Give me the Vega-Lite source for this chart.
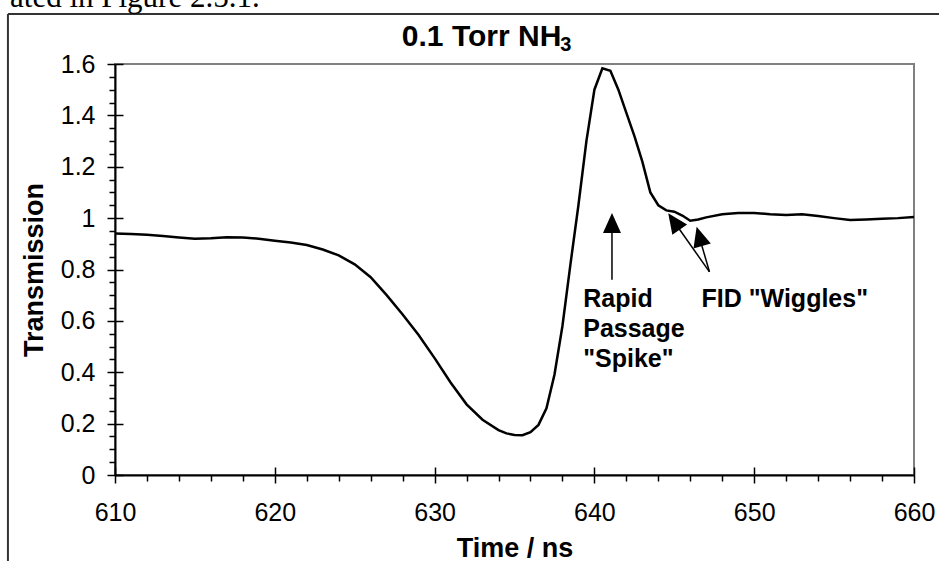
{
  "$schema": "https://vega.github.io/schema/vega-lite/v6.json",
  "width": 799,
  "height": 411,
  "autosize": {"type": "none"},
  "padding": {"left": 115, "top": 64, "right": 25, "bottom": 86},
  "background": "white",
  "config": {
    "font": "Liberation Sans",
    "view": {"stroke": "#808080", "strokeWidth": 2},
    "axis": {"grid": false, "labelColor": "black", "titleColor": "black", "tickColor": "black", "domainColor": "black"}
  },
  "datasets": {
    "curve": [
      {"t": 610, "v": 0.94}, {"t": 611, "v": 0.938}, {"t": 612, "v": 0.935}, {"t": 613, "v": 0.93},
      {"t": 614, "v": 0.925}, {"t": 615, "v": 0.92}, {"t": 616, "v": 0.922}, {"t": 617, "v": 0.926},
      {"t": 618, "v": 0.925}, {"t": 619, "v": 0.92}, {"t": 620, "v": 0.912}, {"t": 621, "v": 0.905},
      {"t": 622, "v": 0.895}, {"t": 623, "v": 0.878}, {"t": 624, "v": 0.855}, {"t": 625, "v": 0.82},
      {"t": 626, "v": 0.77}, {"t": 627, "v": 0.7}, {"t": 628, "v": 0.625}, {"t": 629, "v": 0.545},
      {"t": 630, "v": 0.455}, {"t": 631, "v": 0.36}, {"t": 632, "v": 0.275}, {"t": 633, "v": 0.215},
      {"t": 634, "v": 0.175}, {"t": 634.5, "v": 0.162}, {"t": 635, "v": 0.156}, {"t": 635.5, "v": 0.155},
      {"t": 636, "v": 0.167}, {"t": 636.5, "v": 0.195}, {"t": 637, "v": 0.26}, {"t": 637.5, "v": 0.39},
      {"t": 638, "v": 0.58}, {"t": 638.5, "v": 0.82}, {"t": 639, "v": 1.05}, {"t": 639.5, "v": 1.3},
      {"t": 640, "v": 1.5}, {"t": 640.5, "v": 1.583}, {"t": 641, "v": 1.574}, {"t": 641.5, "v": 1.5},
      {"t": 642, "v": 1.41}, {"t": 642.5, "v": 1.32}, {"t": 643, "v": 1.22}, {"t": 643.5, "v": 1.1},
      {"t": 644, "v": 1.05}, {"t": 644.5, "v": 1.03}, {"t": 645, "v": 1.025}, {"t": 645.5, "v": 1.01},
      {"t": 646, "v": 0.99}, {"t": 646.5, "v": 0.995}, {"t": 647, "v": 1.003}, {"t": 648, "v": 1.015},
      {"t": 649, "v": 1.02}, {"t": 650, "v": 1.02}, {"t": 651, "v": 1.015}, {"t": 652, "v": 1.012},
      {"t": 653, "v": 1.015}, {"t": 654, "v": 1.008}, {"t": 655, "v": 1.0}, {"t": 656, "v": 0.993},
      {"t": 657, "v": 0.995}, {"t": 658, "v": 0.998}, {"t": 659, "v": 1.0}, {"t": 660, "v": 1.004}
    ],
    "notes": [
      {"x": 639.3, "y": 0.654, "label": "Rapid\nPassage\n\"Spike\""},
      {"x": 646.7, "y": 0.654, "label": "FID \"Wiggles\""}
    ],
    "arrows": [
      {"x": 641.1, "y": 0.76, "x2": 641.1, "y2": 0.985},
      {"x": 647.2, "y": 0.791, "x2": 645.0, "y2": 0.985},
      {"x": 647.2, "y": 0.791, "x2": 646.55, "y2": 0.93}
    ],
    "heads": [
      {"x": 641.1, "y": 0.981, "angle": 0},
      {"x": 644.98, "y": 0.987, "angle": 325},
      {"x": 646.57, "y": 0.929, "angle": 344}
    ],
    "frame": [
      {"x": 603.3, "y": 1.7945, "x2": 663, "y2": 1.7945},
      {"x": 603.3, "y": 1.7945, "x2": 603.3, "y2": -0.6}
    ],
    "caption": [
      {"x": 603.43, "y": 1.8217, "label": "ated in Figure 2.5.1."}
    ],
    "heading": [
      {"x": 627.95, "y": 1.67, "label": "0.1 Torr NH", "size": 30},
      {"x": 637.86, "y": 1.6505, "label": "3", "size": 20}
    ]
  },
  "resolve": {"axis": {"x": "independent", "y": "independent"}},
  "layer": [
    {
      "data": {"name": "frame"},
      "mark": {"type": "rule", "color": "#333333", "strokeWidth": 2, "clip": false},
      "encoding": {
        "x": {"field": "x", "type": "quantitative", "scale": {"domain": [610, 660], "nice": false, "zero": false}, "axis": null},
        "y": {"field": "y", "type": "quantitative", "scale": {"domain": [0, 1.6], "nice": false, "zero": false}, "axis": null},
        "x2": {"field": "x2"},
        "y2": {"field": "y2"}
      }
    },
    {
      "data": {"name": "caption"},
      "mark": {"type": "text", "font": "Liberation Serif", "fontSize": 31, "align": "left", "baseline": "alphabetic", "color": "black", "clip": false},
      "encoding": {
        "x": {"field": "x", "type": "quantitative", "scale": {"domain": [610, 660], "nice": false, "zero": false}, "axis": null},
        "y": {"field": "y", "type": "quantitative", "scale": {"domain": [0, 1.6], "nice": false, "zero": false}, "axis": null},
        "text": {"field": "label"}
      }
    },
    {
      "data": {"name": "heading"},
      "mark": {"type": "text", "font": "Liberation Sans", "fontWeight": "bold", "align": "left", "baseline": "alphabetic", "color": "black", "clip": false},
      "encoding": {
        "x": {"field": "x", "type": "quantitative", "scale": {"domain": [610, 660], "nice": false, "zero": false}, "axis": null},
        "y": {"field": "y", "type": "quantitative", "scale": {"domain": [0, 1.6], "nice": false, "zero": false}, "axis": null},
        "text": {"field": "label"},
        "size": {"field": "size", "type": "quantitative", "scale": null, "legend": null}
      }
    },
    {
      "data": {"name": "curve"},
      "mark": {"type": "line", "color": "black", "strokeWidth": 2.5},
      "encoding": {
        "x": {"field": "t", "type": "quantitative", "scale": {"domain": [610, 660], "nice": false, "zero": false},
          "axis": {"orient": "bottom", "values": [610, 620, 630, 640, 650, 660], "tickSize": 8, "tickWidth": 1.5, "domainWidth": 2,
            "labelFontSize": 25, "labelPadding": 17, "labelFlush": false, "labelOverlap": false,
            "title": "Time / ns", "titleFontSize": 27, "titleFontWeight": "bold", "titlePadding": 10}},
        "y": {"field": "v", "type": "quantitative", "scale": {"domain": [0, 1.6], "nice": false, "zero": false},
          "axis": {"orient": "left", "values": [0, 0.2, 0.4, 0.6, 0.8, 1, 1.2, 1.4, 1.6], "format": ".1~f", "tickSize": 8, "tickWidth": 1.5, "domainWidth": 2,
            "labelFontSize": 25, "labelPadding": 12, "labelFlush": false, "labelOverlap": false,
            "title": "Transmission", "titleFontSize": 27, "titleFontWeight": "bold", "titlePadding": 12}}
      }
    },
    {
      "data": {"name": "notes"},
      "mark": {"type": "text", "fontSize": 25, "fontWeight": "bold", "align": "left", "baseline": "alphabetic", "lineBreak": "\n", "lineHeight": 30, "color": "black"},
      "encoding": {
        "x": {"field": "x", "type": "quantitative", "scale": {"domain": [610, 660], "nice": false, "zero": false},
          "axis": {"orient": "bottom", "values": [612, 614, 616, 618, 622, 624, 626, 628, 632, 634, 636, 638, 642, 644, 646, 648, 652, 654, 656, 658],
            "tickSize": 6, "tickWidth": 1.5, "labels": false, "domain": false, "title": null}},
        "y": {"field": "y", "type": "quantitative", "scale": {"domain": [0, 1.6], "nice": false, "zero": false},
          "axis": {"orient": "left", "values": [0.05, 0.1, 0.15, 0.25, 0.3, 0.35, 0.45, 0.5, 0.55, 0.65, 0.7, 0.75, 0.85, 0.9, 0.95, 1.05, 1.1, 1.15, 1.25, 1.3, 1.35, 1.45, 1.5, 1.55],
            "tickSize": 6, "tickWidth": 1.5, "labels": false, "domain": false, "title": null}},
        "text": {"field": "label"}
      }
    },
    {
      "data": {"name": "arrows"},
      "mark": {"type": "rule", "color": "black", "strokeWidth": 1.5},
      "encoding": {
        "x": {"field": "x", "type": "quantitative", "scale": {"domain": [610, 660], "nice": false, "zero": false}, "axis": null},
        "y": {"field": "y", "type": "quantitative", "scale": {"domain": [0, 1.6], "nice": false, "zero": false}, "axis": null},
        "x2": {"field": "x2"},
        "y2": {"field": "y2"}
      }
    },
    {
      "data": {"name": "heads"},
      "mark": {"type": "point", "shape": "M0,-1L-0.9,1L0.9,1Z", "filled": true, "color": "black", "opacity": 1, "size": 400},
      "encoding": {
        "x": {"field": "x", "type": "quantitative", "scale": {"domain": [610, 660], "nice": false, "zero": false},
          "axis": {"orient": "bottom", "values": [610, 620, 630, 640, 650, 660], "tickSize": -8, "tickWidth": 1.5, "labels": false, "domain": false, "title": null}},
        "y": {"field": "y", "type": "quantitative", "scale": {"domain": [0, 1.6], "nice": false, "zero": false},
          "axis": {"orient": "left", "values": [0, 0.2, 0.4, 0.6, 0.8, 1, 1.2, 1.4, 1.6], "tickSize": -8, "tickWidth": 1.5, "labels": false, "domain": false, "title": null}},
        "angle": {"field": "angle", "type": "quantitative", "scale": null}
      }
    }
  ]
}
